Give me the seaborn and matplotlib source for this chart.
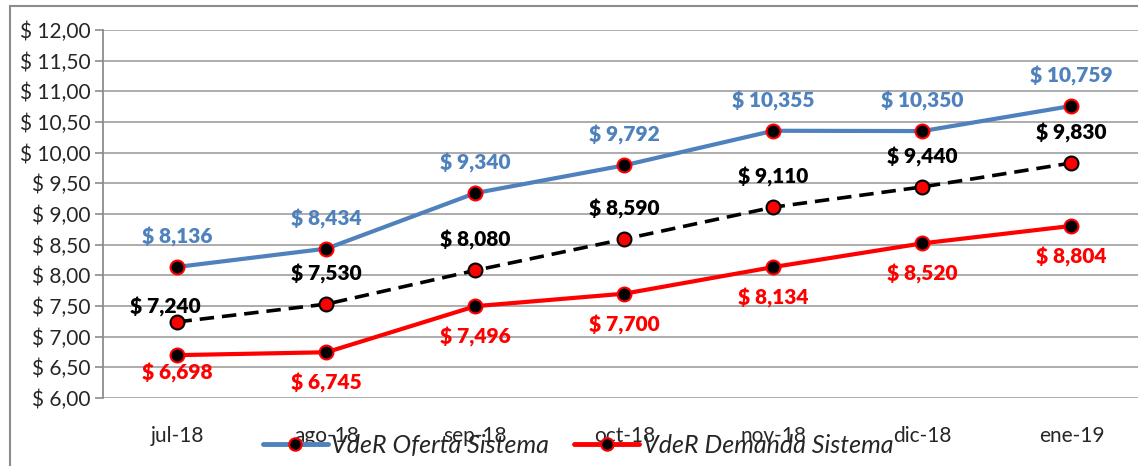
import matplotlib
matplotlib.use("Agg")
import matplotlib.pyplot as plt
import seaborn as sns
import pandas as pd
from matplotlib.patches import Rectangle
from matplotlib.lines import Line2D

# datos del grafico
meses = ['jul-18', 'ago-18', 'sep-18', 'oct-18', 'nov-18', 'dic-18', 'ene-19']
oferta = [8.136, 8.434, 9.340, 9.792, 10.355, 10.350, 10.759]
demanda = [6.698, 6.745, 7.496, 7.700, 8.134, 8.520, 8.804]
precio = [7.240, 7.530, 8.080, 8.590, 9.110, 9.440, 9.830]
y_ticks = [6.0, 6.5, 7.0, 7.5, 8.0, 8.5, 9.0, 9.5, 10.0, 10.5, 11.0, 11.5, 12.0]

sns.set_style('white')
plt.rcParams['font.family'] = ['Lato', 'DejaVu Sans']

azul = '#4F81BD'
rojo = '#FF0000'

fig = plt.figure(figsize=(11.38, 4.66), dpi=100)
ax = fig.add_axes([0.0905, 0.146, 0.9165, 0.790])

df = pd.DataFrame({'mes': meses, 'oferta': oferta, 'demanda': demanda, 'precio': precio})
df['x'] = range(len(meses))

sns.lineplot(data=df, x='x', y='oferta', ax=ax, color=azul, lw=3, marker='o', sort=False)
sns.lineplot(data=df, x='x', y='precio', ax=ax, color='black', lw=2.6, marker='o', sort=False)
sns.lineplot(data=df, x='x', y='demanda', ax=ax, color=rojo, lw=3, marker='o', sort=False)

# estilos de marcadores
l_of, l_pr, l_de = ax.lines[:3]
for ln in (l_of, l_de):
    ln.set_markersize(10)
    ln.set_markerfacecolor('black')
    ln.set_markeredgecolor(rojo)
    ln.set_markeredgewidth(1.5)
    ln.set_zorder(4)
l_pr.set_markersize(10)
l_pr.set_markerfacecolor(rojo)
l_pr.set_markeredgecolor('black')
l_pr.set_markeredgewidth(1.5)
l_pr.set_linestyle((0, (4, 2.2)))
l_pr.set_zorder(3)


def fmt(v):
    return '$ ' + f'{v:.3f}'.replace('.', ',')


for i in range(len(meses)):
    ax.annotate(fmt(oferta[i]), (i, oferta[i]), xytext=(0, 30), textcoords='offset pixels',
                ha='center', va='center', color=azul, fontsize=15, fontweight='heavy')
    dx, dy = (-12, 15) if i == 0 else (0, 30)
    ax.annotate(fmt(precio[i]), (i, precio[i]), xytext=(dx, dy), textcoords='offset pixels',
                ha='center', va='center', color='black', fontsize=15, fontweight='heavy')
    dy = -18 if i == 0 else -31
    ax.annotate(fmt(demanda[i]), (i, demanda[i]), xytext=(0, dy), textcoords='offset pixels',
                ha='center', va='center', color=rojo, fontsize=15, fontweight='heavy')

ax.set_xlim(-0.5, 6.5)
ax.set_ylim(6, 12)
ax.set_yticks(y_ticks)
ax.set_yticklabels(['$ ' + f'{t:.2f}'.replace('.', ',') for t in y_ticks], fontsize=15)
ax.set_xticks(range(len(meses)))
ax.set_xticklabels(meses, fontsize=15)
ax.tick_params(axis='x', length=0, pad=20)
ax.tick_params(axis='y', length=6, width=1.2, color='#8C8C8C', left=True, pad=3)
ax.set_xlabel('')
ax.set_ylabel('')
ax.grid(axis='y', color='#A6A6A6', lw=1.3)
ax.set_axisbelow(True)
for s in ['top', 'right', 'bottom']:
    ax.spines[s].set_visible(False)
ax.spines['left'].set_color('#8C8C8C')
ax.spines['left'].set_linewidth(1.3)

handles = [
    Line2D([], [], color=azul, lw=3.5, marker='o', markersize=9, markerfacecolor='black',
           markeredgecolor=rojo, markeredgewidth=1.5),
    Line2D([], [], color=rojo, lw=3.5, marker='o', markersize=9, markerfacecolor='black',
           markeredgecolor=rojo, markeredgewidth=1.5),
]
fig.legend(handles, ['VdeR Oferta Sistema', 'VdeR Demanda Sistema'], loc='center',
           bbox_to_anchor=(0.508, 0.045), ncol=2, frameon=False, handlelength=2.6,
           columnspacing=1.0, handletextpad=0.15, prop={'size': 18, 'style': 'italic'})

fig.patches.append(Rectangle((10 / 1138, -0.05), 1.2, 1.05 - 6 / 466,
                             transform=fig.transFigure, fill=False, ec='#8C8C8C', lw=1.5))

fig.savefig('out.png', dpi=100)
